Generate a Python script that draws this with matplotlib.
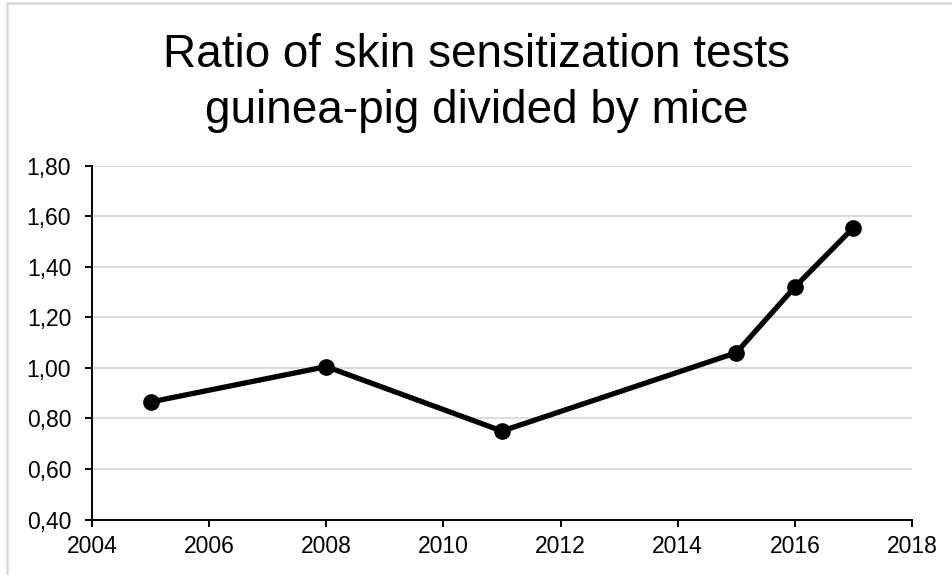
import matplotlib.pyplot as plt
from matplotlib.lines import Line2D
from matplotlib.ticker import FuncFormatter

plt.rcParams['font.family'] = ['Liberation Sans', 'DejaVu Sans']

years = [2005, 2008, 2011, 2015, 2016, 2017]
ratio = [0.865, 1.005, 0.75, 1.06, 1.32, 1.555]
title = "Ratio of skin sensitization tests\nguinea-pig divided by mice"

W, H = 953, 575
fig = plt.figure(figsize=(W / 100, H / 100), dpi=100)
ax = fig.add_axes([92 / W, (H - 519.5) / H, (912 - 92) / W, (519.5 - 165.7) / H])

ax.plot(years, ratio, color='black', lw=3.8, marker='o', ms=11,
        solid_capstyle='round', zorder=3, clip_on=False)

ax.set_xlim(2004, 2018)
ax.set_ylim(0.4, 1.8)
ax.set_xticks(range(2004, 2019, 2))
ax.set_yticks([0.4 + 0.2 * i for i in range(8)])
ax.yaxis.set_major_formatter(FuncFormatter(lambda v, p: f"{v:.2f}".replace('.', ',')))

ax.grid(axis='y', color='#d9d9d9', lw=1.3)
ax.set_axisbelow(True)
for s in ['top', 'right']:
    ax.spines[s].set_visible(False)
for s in ['left', 'bottom']:
    ax.spines[s].set_linewidth(1.4)
ax.tick_params(direction='out', length=5, width=1.4, labelsize=16.5)
ax.tick_params(axis='y', pad=10)
ax.tick_params(axis='x', pad=6)

fig.text(0.5, 1 - 123 / H, title, ha='center', va='baseline', fontsize=33,
         linespacing=1.36)

# light frame around the chart area
fig.add_artist(Line2D([7.5 / W, 7.5 / W], [0, 1 - 3 / H], color='#d9d9d9', lw=1.8))
fig.add_artist(Line2D([7.5 / W, 1], [1 - 3 / H, 1 - 3 / H], color='#d9d9d9', lw=1.8))

fig.savefig('out.png', dpi=100)
